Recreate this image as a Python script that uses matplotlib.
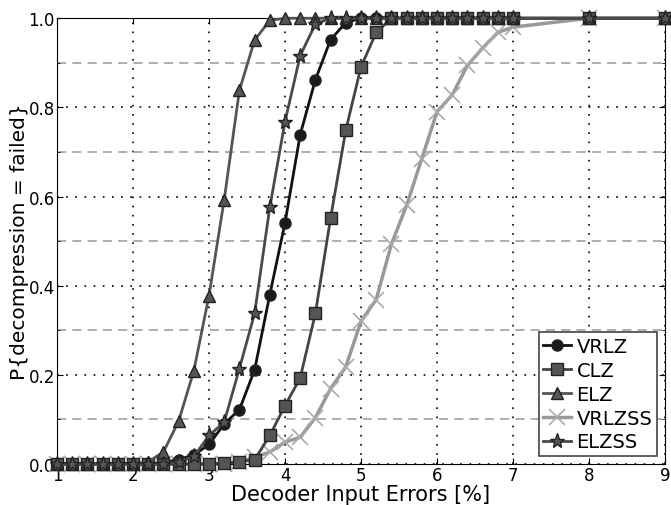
import numpy as np
import matplotlib

matplotlib.use("Agg")
import matplotlib.pyplot as plt
from matplotlib.ticker import MultipleLocator, FormatStrFormatter

x = [1.0, 1.2, 1.4, 1.6, 1.8, 2.0, 2.2, 2.4, 2.6, 2.8, 3.0, 3.2, 3.4, 3.6, 3.8,
     4.0, 4.2, 4.4, 4.6, 4.8, 5.0, 5.2, 5.4, 5.6, 5.8, 6.0, 6.2, 6.4, 6.6, 6.8,
     7.0, 8.0, 9.0]

vrlz = [0, 0, 0, 0, 0, 0, 0, 0.003, 0.01, 0.02, 0.044, 0.09, 0.122, 0.211, 0.38,
        0.541, 0.739, 0.862, 0.952, 0.99, 1, 1, 1, 1, 1, 1, 1, 1, 1, 1, 1, 1, 1]
clz = [0, 0, 0, 0, 0, 0, 0, 0, 0, 0, 0, 0.002, 0.005, 0.01, 0.064,
       0.131, 0.193, 0.338, 0.552, 0.749, 0.891, 0.968, 1, 1, 1, 1, 1, 1, 1, 1, 1, 1, 1]
elz = [0, 0, 0, 0, 0, 0, 0.005, 0.027, 0.096, 0.209, 0.378, 0.593, 0.838, 0.951, 0.995,
       1, 1, 1, 1, 1, 1, 1, 1, 1, 1, 1, 1, 1, 1, 1, 1, 1, 1]
vrlzss = [0, 0, 0, 0, 0, 0, 0, 0, 0, 0, 0, 0, 0.005, 0.015, 0.027,
          0.049, 0.06, 0.104, 0.169, 0.218, 0.32, 0.369, 0.493, 0.58, 0.685, 0.79,
          0.828, 0.894, 0.933, 0.968, 0.98, 1, 1]
elzss = [0, 0, 0, 0, 0, 0, 0, 0, 0.005, 0.017, 0.064, 0.094, 0.214, 0.338, 0.576,
         0.768, 0.916, 0.987, 1, 1, 1, 1, 1, 1, 1, 1, 1, 1, 1, 1, 1, 1, 1]

plt.rcParams.update({"font.family": "DejaVu Sans", "xtick.direction": "in",
                     "ytick.direction": "in"})

fig = plt.figure(figsize=(6.71, 5.06), dpi=100)
ax = fig.add_axes([0.085, 0.081, 0.906, 0.881])

kw = dict(lw=2, ms=8, mec="#222", clip_on=False, zorder=3)
ax.plot(x, vrlz, color="#111111", marker="o", mfc="#1a1a1a", label="VRLZ", **kw)
ax.plot(x, clz, color="#444444", marker="s", mfc="#555555", label="CLZ", **kw)
ax.plot(x, elz, color="#555555", marker="^", mfc="#555555", label="ELZ", **kw)
ax.plot(x, vrlzss, color="#999999", marker="x", ms=12, mew=1.2, mec="#aaaaaa",
        lw=2.5, label="VRLZSS", clip_on=False, zorder=2)
ax.plot(x, elzss, color="#4a4a4a", marker="*", mfc="#555555", label="ELZSS",
        lw=2, ms=11, mec="#222", clip_on=False, zorder=3)

ax.set_xlim(1, 9)
ax.set_ylim(0, 1)
ax.xaxis.set_major_locator(MultipleLocator(1))
ax.yaxis.set_major_locator(MultipleLocator(0.2))
ax.yaxis.set_minor_locator(MultipleLocator(0.1))
ax.yaxis.set_major_formatter(FormatStrFormatter("%.1f"))
ax.tick_params(which="both", top=True, right=True)
ax.tick_params(which="major", labelsize=12, length=4, pad=1.5)
ax.tick_params(which="minor", length=2)

ax.grid(True, which="major", color="black", ls=(0, (1, 4.5)), lw=1.2)
ax.grid(True, which="minor", axis="y", color="#999999", ls=(0, (6, 4)), lw=1.1)

ax.set_xlabel("Decoder Input Errors [%]", fontsize=15, labelpad=0)
ax.set_ylabel("P{decompression = failed}", fontsize=14.5, labelpad=0)

leg = ax.legend(loc="lower right", fontsize=14, handlelength=1.4, borderpad=0.25,
                labelspacing=0.25, handletextpad=0.3, borderaxespad=0.4,
                fancybox=False, framealpha=1)
leg.get_frame().set_edgecolor("#444444")
leg.get_frame().set_linewidth(1.2)

fig.savefig("out.png", dpi=100)
